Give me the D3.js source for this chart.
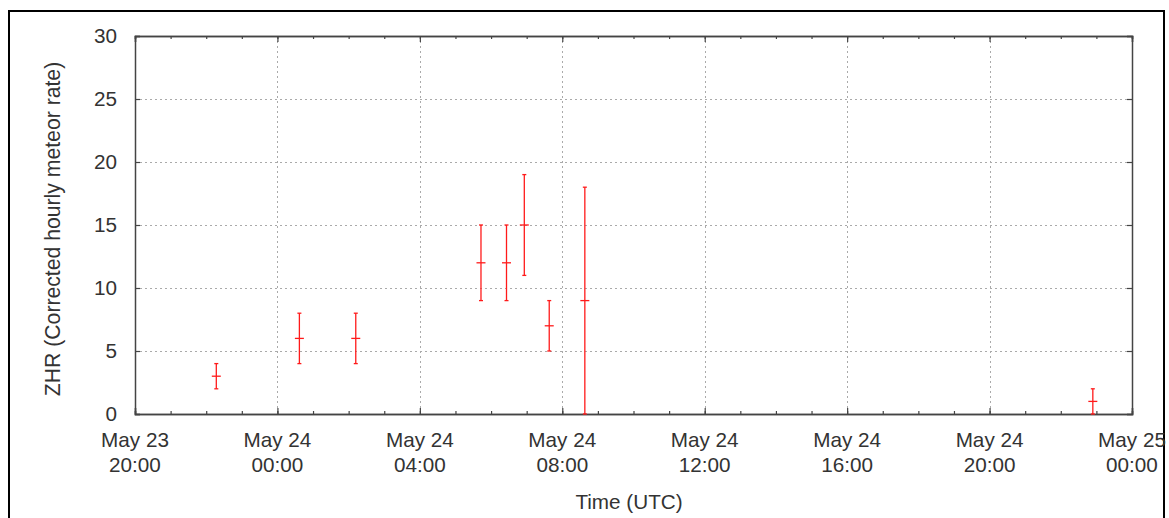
<!DOCTYPE html>
<html>
<head>
<meta charset="utf-8">
<script src="https://cdn.jsdelivr.net/npm/d3@7"></script>
<style>
  html, body { margin: 0; padding: 0; background: #fff; }
  svg { display: block; }
  text { font-family: "Liberation Sans", Arial, sans-serif; fill: #333; }
</style>
</head>
<body>
<svg id="chart" width="1169" height="518"></svg>
<script>
// ZHR observations (UTC time, value, lower bound, upper bound)
const times = [
  "2017-05-23T22:17:00Z",
  "2017-05-24T00:37:00Z",
  "2017-05-24T02:12:00Z",
  "2017-05-24T05:43:00Z",
  "2017-05-24T06:26:00Z",
  "2017-05-24T06:56:00Z",
  "2017-05-24T07:38:00Z",
  "2017-05-24T08:38:00Z",
  "2017-05-24T22:54:00Z"
];
const zhr   = [3, 6, 6, 12, 12, 15, 7, 9, 1];
const lower = [2, 4, 4, 9, 9, 11, 5, 0, 0];
const upper = [4, 8, 8, 15, 15, 19, 9, 18, 2];

const xDomain = ["2017-05-23T20:00:00Z", "2017-05-25T00:00:00Z"];
const yTicks = [0, 5, 10, 15, 20, 25, 30];
const xTickLabels = [
  ["May 23", "20:00"], ["May 24", "00:00"], ["May 24", "04:00"], ["May 24", "08:00"],
  ["May 24", "12:00"], ["May 24", "16:00"], ["May 24", "20:00"], ["May 25", "00:00"]
];

const svg = d3.select("#chart");
const plotL = 135, plotR = 1132, plotT = 36, plotB = 414;
const fontSize = 20.7;

const x = d3.scaleUtc().domain(xDomain.map(d => new Date(d))).range([plotL, plotR]);
const y = d3.scaleLinear().domain([0, 30]).range([plotB, plotT]);

const endPlus = new Date(+x.domain()[1] + 1);
const majorTicks = d3.utcHour.every(4).range(x.domain()[0], endPlus);
const minorTicks = d3.utcHour.every(1).range(x.domain()[0], endPlus);

// outer frame
svg.append("rect")
  .attr("x", 9).attr("y", 11).attr("width", 1155).attr("height", 520)
  .attr("fill", "none").attr("stroke", "#000").attr("stroke-width", 2);

// grid
const grid = svg.append("g").attr("stroke", "#aaa").attr("stroke-width", 1)
  .attr("stroke-dasharray", "2,3");
grid.selectAll(".gy").data(yTicks.slice(1, -1)).join("line")
  .attr("x1", plotL).attr("x2", plotR)
  .attr("y1", d => Math.round(y(d)) + 0.5).attr("y2", d => Math.round(y(d)) + 0.5);
grid.selectAll(".gx").data(majorTicks.slice(1, -1)).join("line")
  .attr("x1", d => Math.round(x(d)) + 0.5).attr("x2", d => Math.round(x(d)) + 0.5)
  .attr("y1", plotT).attr("y2", plotB);

// axes (ticks point inward on all sides)
const axisColor = "#444";
const bottomAxis = d3.axisBottom(x).tickValues(majorTicks).tickSize(-6).tickFormat("");
const bottomMinor = d3.axisBottom(x).tickValues(minorTicks).tickSize(-3).tickFormat("");
const topAxis = d3.axisTop(x).tickValues(majorTicks).tickSize(-6).tickFormat("");
const topMinor = d3.axisTop(x).tickValues(minorTicks).tickSize(-3).tickFormat("");
const leftAxis = d3.axisLeft(y).tickValues(yTicks).tickSize(-5).tickPadding(18);
const rightAxis = d3.axisRight(y).tickValues(yTicks).tickSize(-5).tickFormat("");

function style(g) {
  g.selectAll("path").attr("stroke", axisColor).attr("stroke-width", 1.5);
  g.selectAll("line").attr("stroke", axisColor).attr("stroke-width", 1.2);
}
svg.append("g").attr("transform", `translate(0,${plotB})`).call(bottomMinor).call(style);
svg.append("g").attr("transform", `translate(0,${plotB})`).call(bottomAxis).call(style);
svg.append("g").attr("transform", `translate(0,${plotT})`).call(topMinor).call(style);
svg.append("g").attr("transform", `translate(0,${plotT})`).call(topAxis).call(style);
const ly = svg.append("g").attr("transform", `translate(${plotL},0)`).call(leftAxis).call(style);
ly.selectAll("text").style("font-size", fontSize + "px");
svg.append("g").attr("transform", `translate(${plotR},0)`).call(rightAxis).call(style);

// x tick labels on two lines
const xl = svg.append("g").style("font-size", fontSize + "px").attr("text-anchor", "middle");
xl.selectAll("text").data(majorTicks).join("text")
  .each(function(d, i) {
    const t = d3.select(this);
    t.append("tspan").attr("x", x(d)).attr("y", 447).text(xTickLabels[i][0]);
    t.append("tspan").attr("x", x(d)).attr("y", 472).text(xTickLabels[i][1]);
  });

// axis titles
svg.append("text").attr("x", 629).attr("y", 509)
  .attr("text-anchor", "middle").style("font-size", fontSize + "px").text("Time (UTC)");
svg.append("text")
  .attr("transform", "translate(60,229) rotate(-90)")
  .attr("text-anchor", "middle").style("font-size", "21.2px")
  .text("ZHR (Corrected hourly meteor rate)");

// error bars
const data = times.map((t, i) => ({ t: new Date(t), v: zhr[i], lo: lower[i], hi: upper[i] }));
const eb = svg.append("g").attr("stroke", "#ff1a1a").attr("stroke-width", 1.3).attr("fill", "none");
const bars = eb.selectAll("g").data(data).join("g");
bars.append("line")
  .attr("x1", d => x(d.t)).attr("x2", d => x(d.t))
  .attr("y1", d => y(d.lo)).attr("y2", d => y(d.hi));
bars.append("line")
  .attr("x1", d => x(d.t) - 2).attr("x2", d => x(d.t) + 2)
  .attr("y1", d => y(d.hi)).attr("y2", d => y(d.hi));
bars.append("line")
  .attr("x1", d => x(d.t) - 2).attr("x2", d => x(d.t) + 2)
  .attr("y1", d => y(d.lo)).attr("y2", d => y(d.lo));
bars.append("line")
  .attr("x1", d => x(d.t) - 4.5).attr("x2", d => x(d.t) + 4.5)
  .attr("y1", d => y(d.v)).attr("y2", d => y(d.v));
</script>
</body>
</html>
